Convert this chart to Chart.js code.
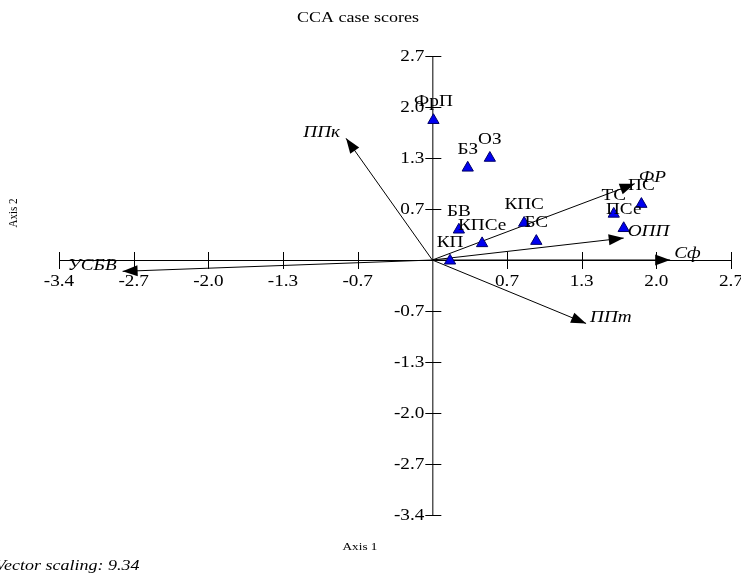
<!doctype html>
<html lang="en">
<head>
<meta charset="utf-8">
<title>CCA case scores</title>
<script src="https://cdn.jsdelivr.net/npm/chart.js@4.4.0/dist/chart.umd.min.js"></script>
<style>
  body { margin: 0; background: #fff; }
  #cca { display: block; }
</style>
</head>
<body>
<canvas id="cca" width="741" height="573"></canvas>
<script>
// case scores (sites)
const siteNames = ['ФрП', 'БЗ', 'ОЗ', 'БВ', 'КПСе', 'КПС', 'БС', 'КП', 'ТС', 'ПСе', 'ПС'];
const siteX = [0.01, 0.32, 0.52, 0.24, 0.45, 0.83, 0.94, 0.16, 1.64, 1.73, 1.89];
const siteY = [1.85, 1.22, 1.35, 0.40, 0.22, 0.49, 0.25, -0.01, 0.61, 0.42, 0.74];

// environmental vectors (already scaled)
const vecNames = ['ППк', 'ФР', 'ОПП', 'Сф', 'ППт', 'УСБВ'];
const vecX = [-0.78, 1.83, 1.73, 2.15, 1.39, -2.80];
const vecY = [1.61, 1.01, 0.29, 0.00, -0.84, -0.15];

// axis ticks
const tickVals = [-3.375, -2.7, -2.025, -1.35, -0.675, 0.675, 1.35, 2.025, 2.7];
const tickLabels = ['-3.4', '-2.7', '-2.0', '-1.3', '-0.7', '0.7', '1.3', '2.0', '2.7'];
const axisMin = -3.375;
const axisMax = 2.7;

const serif = '"Liberation Serif", "DejaVu Serif", serif';
const stretch = 1.2; // the original text is drawn a bit wider than normal

// text helper: horizontally stretched glyphs, anchored like fillText
function text(ctx, str, x, y, align) {
    ctx.save();
    ctx.translate(x, y);
    ctx.scale(stretch, 1);
    ctx.textAlign = align;
    ctx.fillText(str, 0, 0);
    ctx.restore();
}

const vectorSets = vecNames.map(function (name, i) {
    return {
        label: name,
        data: [{ x: 0, y: 0 }, { x: vecX[i], y: vecY[i] }],
        showLine: true,
        borderColor: '#000',
        borderWidth: 1,
        pointRadius: 0,
        order: 2
    };
});

const siteSet = {
    label: 'sites',
    data: siteX.map(function (x, i) { return { x: x, y: siteY[i] }; }),
    pointStyle: 'triangle',
    pointRadius: 6.5,
    backgroundColor: '#0000f0',
    borderColor: '#000066',
    borderWidth: 1,
    order: 1
};

const decorations = {
    id: 'decorations',
    beforeDatasetsDraw(chart) {
        const ctx = chart.ctx;
        const xs = chart.scales.x, ys = chart.scales.y;
        const x0 = xs.getPixelForValue(0), y0 = ys.getPixelForValue(0);
        ctx.save();
        ctx.strokeStyle = '#000';
        ctx.lineWidth = 1;
        ctx.beginPath();
        ctx.moveTo(xs.getPixelForValue(axisMin), y0 + 0.5);
        ctx.lineTo(xs.getPixelForValue(axisMax), y0 + 0.5);
        ctx.moveTo(x0 + 0.5, ys.getPixelForValue(axisMin));
        ctx.lineTo(x0 + 0.5, ys.getPixelForValue(axisMax));
        tickVals.forEach(function (v) {
            const px = Math.round(xs.getPixelForValue(v)) + 0.5;
            const py = Math.round(ys.getPixelForValue(v)) + 0.5;
            ctx.moveTo(px, y0 - 8);
            ctx.lineTo(px, y0 + 9);
            ctx.moveTo(x0 - 7, py);
            ctx.lineTo(x0 + 9, py);
        });
        ctx.stroke();

        ctx.fillStyle = '#000';
        ctx.font = '16px ' + serif;
        ctx.textBaseline = 'middle';
        tickVals.forEach(function (v, i) {
            text(ctx, tickLabels[i], xs.getPixelForValue(v), y0 + 22, 'center');
        });
        tickVals.forEach(function (v, i) {
            text(ctx, tickLabels[i], x0 - 8, ys.getPixelForValue(v) + 1, 'right');
        });
        ctx.restore();
    },
    afterDatasetsDraw(chart) {
        const ctx = chart.ctx;
        const xs = chart.scales.x, ys = chart.scales.y;
        const x0 = xs.getPixelForValue(0), y0 = ys.getPixelForValue(0);
        ctx.save();
        ctx.fillStyle = '#000';
        ctx.textBaseline = 'middle';

        // arrow heads and vector names
        vecNames.forEach(function (name, i) {
            const tx = xs.getPixelForValue(vecX[i]);
            const ty = ys.getPixelForValue(vecY[i]);
            const a = Math.atan2(ty - y0, tx - x0);
            const len = 15, half = 5.5;
            ctx.beginPath();
            ctx.moveTo(tx, ty);
            ctx.lineTo(tx - len * Math.cos(a) + half * Math.sin(a), ty - len * Math.sin(a) - half * Math.cos(a));
            ctx.lineTo(tx - len * Math.cos(a) - half * Math.sin(a), ty - len * Math.sin(a) + half * Math.cos(a));
            ctx.closePath();
            ctx.fill();

            ctx.font = 'italic 16px ' + serif;
            if (vecX[i] < 0) {
                text(ctx, name, tx - 6, ty - 6, 'right');
            } else {
                text(ctx, name, tx + 4, ty - 6, 'left');
            }
        });

        // site names above the triangles
        ctx.font = '16px ' + serif;
        siteNames.forEach(function (name, i) {
            text(ctx, name, xs.getPixelForValue(siteX[i]), ys.getPixelForValue(siteY[i]) - 18, 'center');
        });

        // titles
        ctx.font = '15px ' + serif;
        text(ctx, 'CCA case scores', 358, 18, 'center');
        ctx.font = '11px ' + serif;
        text(ctx, 'Axis 1', 360, 547, 'center');
        ctx.save();
        ctx.translate(14, 213);
        ctx.rotate(-Math.PI / 2);
        ctx.scale(1, stretch);
        ctx.textAlign = 'center';
        ctx.fillText('Axis 2', 0, 0);
        ctx.restore();
        ctx.font = 'italic 15px ' + serif;
        text(ctx, 'Vector scaling: 9.34', -5, 566, 'left');
        ctx.restore();
    }
};

new Chart(document.getElementById('cca'), {
    type: 'scatter',
    data: { datasets: vectorSets.concat([siteSet]) },
    options: {
        responsive: false,
        animation: false,
        devicePixelRatio: 1,
        layout: { padding: { left: 59, right: 10, top: 56, bottom: 58 } },
        scales: {
            x: { type: 'linear', display: false, min: axisMin, max: axisMax },
            y: { type: 'linear', display: false, min: axisMin, max: axisMax }
        },
        plugins: {
            legend: { display: false },
            tooltip: { enabled: false },
            title: { display: false }
        }
    },
    plugins: [decorations]
});
</script>
</body>
</html>
